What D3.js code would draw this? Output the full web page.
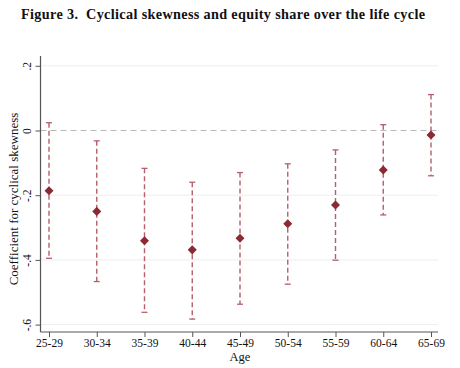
<!DOCTYPE html>
<html><head><meta charset="utf-8">
<script src="https://cdn.jsdelivr.net/npm/d3@7"></script>
<style>body{margin:0;background:#fff}svg{display:block}</style>
</head><body>
<script>
const ages = ["25-29","30-34","35-39","40-44","45-49","50-54","55-59","60-64","65-69"];
const coef = [-0.186,-0.250,-0.341,-0.369,-0.333,-0.288,-0.230,-0.122,-0.014];
const ciHigh = [0.024,-0.032,-0.117,-0.160,-0.130,-0.103,-0.060,0.018,0.111];
const ciLow = [-0.395,-0.467,-0.562,-0.583,-0.537,-0.475,-0.401,-0.261,-0.140];
const yTicks = [0.2,0,-0.2,-0.4,-0.6];
const yTickLabels = [".2","0","-.2","-.4","-.6"];

(function(){
const W=460,H=368;
const svg=d3.select("body").append("svg").attr("width",W).attr("height",H);
const pL=40.5,pR=438,pT=56,pB=332;
const x=d3.scalePoint().domain(ages).range([49,431]);
const y=d3.scaleLinear().domain([0,-1]).range([130.5,454]);
const serif="'Liberation Serif','DejaVu Serif',serif";

svg.append("text").attr("x",21).attr("y",19).attr("font-family",serif).attr("font-weight","bold")
 .attr("font-size",14.2).attr("fill","#111").attr("xml:space","preserve")
 .attr("textLength",404).attr("lengthAdjust","spacing")
 .text("Figure 3.  Cyclical skewness and equity share over the life cycle");

svg.append("g").selectAll("line").data(yTicks.filter(d=>d!==0)).join("line")
 .attr("x1",pL).attr("x2",pR).attr("y1",d=>y(d)).attr("y2",d=>y(d))
 .attr("stroke","#eeeeee").attr("stroke-width",1);
svg.append("line").attr("x1",pL).attr("x2",pR).attr("y1",y(0)).attr("y2",y(0))
 .attr("stroke","#b8b8b8").attr("stroke-width",1.2).attr("stroke-dasharray","6,4");

const yAxis=svg.append("g").attr("transform",`translate(${pL},0)`)
 .call(d3.axisLeft(y).tickValues(yTicks).tickFormat((d,i)=>yTickLabels[i]).tickSize(5).tickPadding(4));
yAxis.select(".domain").remove();
yAxis.append("line").attr("x1",0).attr("x2",0).attr("y1",pT).attr("y2",pB).attr("stroke","#555").attr("stroke-width",1.2);
yAxis.selectAll(".tick line").attr("stroke","#555");
yAxis.selectAll(".tick text").attr("font-family",serif).attr("font-size",11.5).attr("fill","#111")
 .attr("text-anchor","middle").attr("x",0).attr("y",0).attr("dy",0)
 .attr("transform","translate(-10,0) rotate(-90)");

const xAxis=svg.append("g").attr("transform",`translate(0,${pB})`)
 .call(d3.axisBottom(x).tickSize(5).tickPadding(2));
xAxis.select(".domain").remove();
xAxis.append("line").attr("x1",pL).attr("x2",pR).attr("y1",0).attr("y2",0).attr("stroke","#555").attr("stroke-width",1.2);
xAxis.selectAll(".tick line").attr("stroke","#555");
xAxis.selectAll(".tick text").attr("font-family",serif).attr("font-size",11.5).attr("fill","#111");

svg.append("text").attr("x",240).attr("y",361).attr("text-anchor","middle").attr("font-family",serif)
 .attr("font-size",12.5).attr("fill","#111").text("Age");
svg.append("text").attr("transform","translate(18,199) rotate(-90)").attr("text-anchor","middle")
 .attr("font-family",serif).attr("font-size",13).attr("fill","#111").text("Coefficient for cyclical skewness");

const ciCol="#b4606c";
const g=svg.append("g");
ages.forEach((a,i)=>{
  const cx=x(a);
  g.append("line").attr("x1",cx).attr("x2",cx).attr("y1",y(ciHigh[i])).attr("y2",y(ciLow[i]))
   .attr("stroke",ciCol).attr("stroke-width",1.4).attr("stroke-dasharray","5,3");
  [ciHigh[i],ciLow[i]].forEach(v=>{
    g.append("line").attr("x1",cx-3).attr("x2",cx+3).attr("y1",y(v)).attr("y2",y(v))
     .attr("stroke",ciCol).attr("stroke-width",1.3);
  });
});
svg.append("g").selectAll("path").data(ages).join("path")
 .attr("transform",(d,i)=>`translate(${x(d)},${y(coef[i])})`)
 .attr("d",d3.symbol(d3.symbolDiamond2,52)).attr("fill","#8a2a33");
})();
</script>
</body></html>
